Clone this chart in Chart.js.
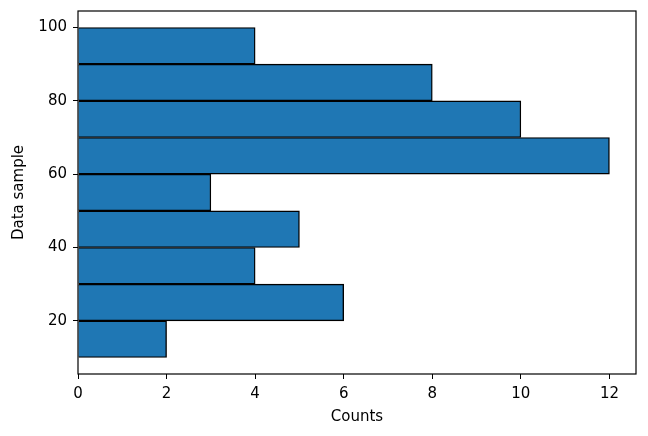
<!DOCTYPE html>
<html>
<head>
<meta charset="utf-8">
<script src="https://cdn.jsdelivr.net/npm/chart.js@4/dist/chart.umd.min.js"></script>
<style>
  html, body { margin: 0; padding: 0; background: #fff; }
  #wrap { width: 648px; height: 436px; }
</style>
</head>
<body>
<div id="wrap"><canvas id="hist" width="648" height="436"></canvas></div>
<script>
// histogram bins (lower edge) and counts
const binStarts = [10, 20, 30, 40, 50, 60, 70, 80, 90];
const binWidth = 10;
const counts = [2, 6, 4, 5, 3, 12, 10, 8, 4];
const yTicks = [20, 40, 60, 80, 100];
const xTicks = [0, 2, 4, 6, 8, 10, 12];

const font = { family: "'DejaVu Sans', sans-serif", size: 15 };

const frame = {
    id: "frame",
    afterDraw(chart) {
        const a = chart.chartArea;
        const ctx = chart.ctx;
        ctx.save();
        ctx.strokeStyle = "#000";
        ctx.lineWidth = 1.2;
        ctx.strokeRect(a.left, a.top, a.right - a.left, a.bottom - a.top);
        ctx.restore();
    }
};

new Chart(document.getElementById("hist"), {
    type: "bar",
    data: {
        datasets: [{
            data: binStarts.map((s, i) => ({ y: s + binWidth / 2, x: counts[i] })),
            backgroundColor: "#1f77b4",
            borderColor: "#000",
            borderWidth: 1.4,
            barPercentage: 1,
            categoryPercentage: 1
        }]
    },
    options: {
        indexAxis: "y",
        responsive: false,
        animation: false,
        layout: { padding: { top: 11, right: 12, left: 0, bottom: 0 } },
        plugins: { legend: { display: false }, tooltip: { enabled: false } },
        scales: {
            x: {
                type: "linear",
                min: 0,
                max: 12.6,
                afterBuildTicks: s => { s.ticks = xTicks.map(v => ({ value: v })); },
                afterFit: s => { s.height = 62; s.paddingLeft = 0; s.paddingRight = 0; },
                ticks: { color: "#000", font: font, padding: 6, maxRotation: 0 },
                grid: { display: true, drawOnChartArea: false, drawTicks: true, tickLength: 5, tickColor: "#000", color: "#000" },
                border: { display: false },
                title: { display: true, text: "Counts", color: "#000", font: font, padding: { top: 4, bottom: 10 } }
            },
            y: {
                type: "linear",
                min: 5.5,
                max: 104.5,
                offset: false,
                afterBuildTicks: s => { s.ticks = yTicks.map(v => ({ value: v })); },
                afterFit: s => { s.width = 78; s.paddingTop = 0; s.paddingBottom = 0; },
                ticks: { color: "#000", font: font, padding: 6 },
                grid: { display: true, offset: false, drawOnChartArea: false, drawTicks: true, tickLength: 5, tickColor: "#000", color: "#000" },
                border: { display: false },
                title: { display: true, text: "Data sample", color: "#000", font: font, padding: { top: 10, bottom: 4 } }
            }
        }
    },
    plugins: [frame]
});
</script>
</body>
</html>
